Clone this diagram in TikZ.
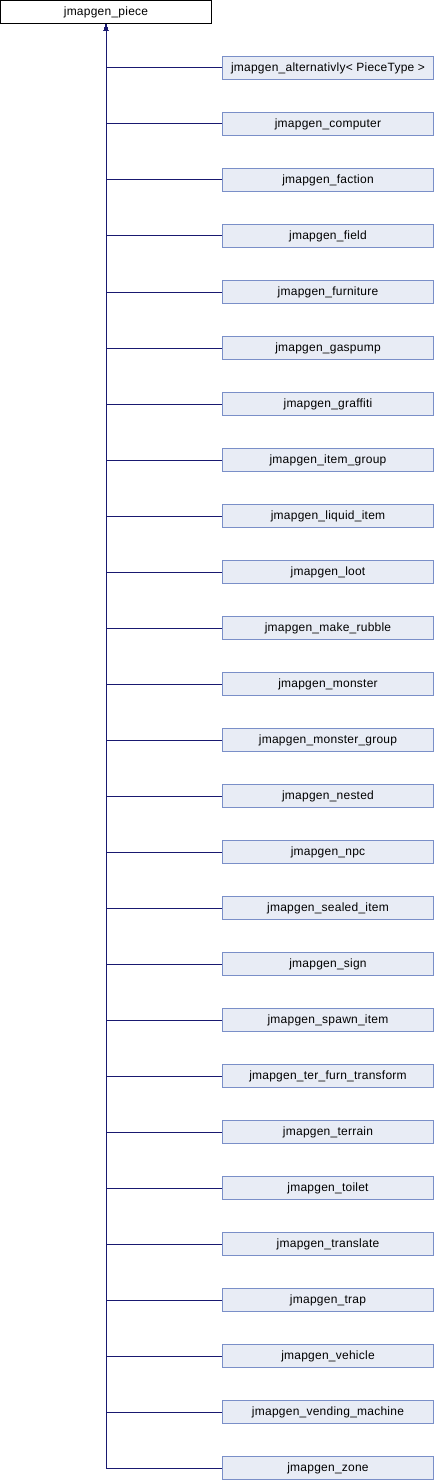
\documentclass[tikz,border=0pt]{standalone}
\usepackage{fontspec}
\setmainfont[LetterSpace=2]{Liberation Sans}
\usetikzlibrary{arrows.meta}
\definecolor{edgeblue}{HTML}{191970}
\definecolor{boxfill}{HTML}{E8ECF5}
\definecolor{boxdraw}{HTML}{7A8FC8}
\begin{document}
\begin{tikzpicture}[x=0.75pt,y=-0.75pt,
  base/.style={rectangle,inner sep=0pt,minimum width=211*0.75pt,minimum height=23*0.75pt,font=\fontsize{9pt}{10pt}\selectfont,line width=0.75pt},
  parentbox/.style={base,draw=black,fill=white},
  childbox/.style={base,draw=boxdraw,fill=boxfill},
  edge/.style={draw=edgeblue,line width=0.75pt,-{Triangle[length=5pt,width=3pt]}}]
\useasboundingbox (0,0) rectangle (434,1480);
\node[parentbox] (p) at (106,12) {jmapgen\_piece};
\foreach \lab [count=\i from 0] in {
  jmapgen\_alternativly< PieceType >,
  jmapgen\_computer,
  jmapgen\_faction,
  jmapgen\_field,
  jmapgen\_furniture,
  jmapgen\_gaspump,
  jmapgen\_graffiti,
  jmapgen\_item\_group,
  jmapgen\_liquid\_item,
  jmapgen\_loot,
  jmapgen\_make\_rubble,
  jmapgen\_monster,
  jmapgen\_monster\_group,
  jmapgen\_nested,
  jmapgen\_npc,
  jmapgen\_sealed\_item,
  jmapgen\_sign,
  jmapgen\_spawn\_item,
  jmapgen\_ter\_furn\_transform,
  jmapgen\_terrain,
  jmapgen\_toilet,
  jmapgen\_translate,
  jmapgen\_trap,
  jmapgen\_vehicle,
  jmapgen\_vending\_machine,
  jmapgen\_zone}
{
  \node[childbox] (c\i) at (328,{68+56*\i}) {\lab};
  \draw[edge] (c\i.west) -| (p.south);
}
\end{tikzpicture}
\end{document}
